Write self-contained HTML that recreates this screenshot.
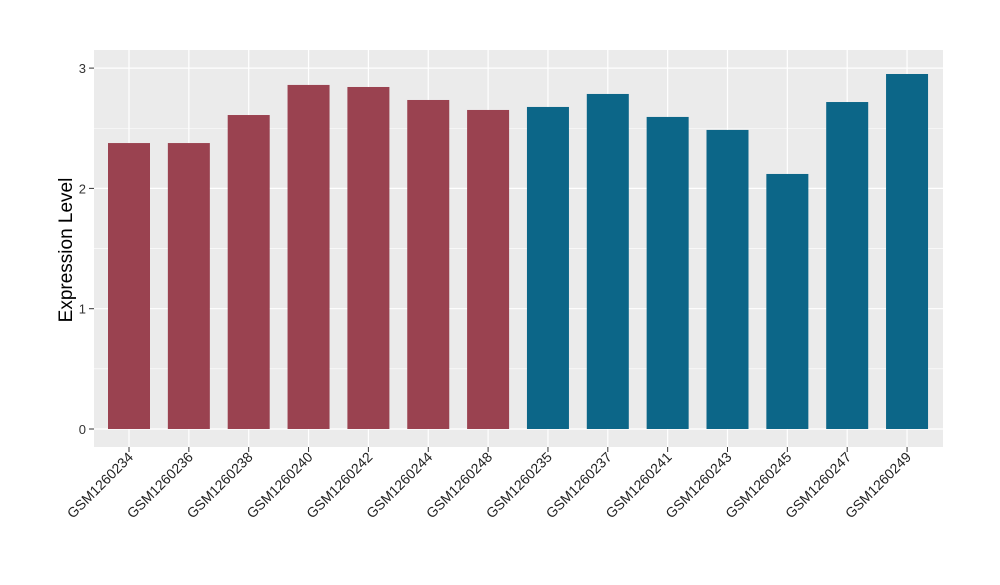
<!DOCTYPE html>
<html><head><meta charset="utf-8"><style>
body{margin:0;background:#fff;}
svg text{font-family:"Liberation Sans",sans-serif;}
</style></head><body>
<svg id="chart" width="1000" height="580">
<rect x="94" y="50" width="849" height="397" fill="#ebebeb"/>
<g id="grid"></g><g id="bars"></g><g id="axes"></g>
<text x="72" y="250" font-size="19" text-anchor="middle" transform="rotate(-90 72 250)">Expression Level</text>
</svg>
<script>
const categories=["GSM1260234","GSM1260236","GSM1260238","GSM1260240","GSM1260242","GSM1260244","GSM1260248","GSM1260235","GSM1260237","GSM1260241","GSM1260243","GSM1260245","GSM1260247","GSM1260249"];
const values=[2.377,2.377,2.61,2.86,2.843,2.735,2.652,2.677,2.785,2.594,2.486,2.12,2.718,2.951];
const groups=[0,0,0,0,0,0,0,1,1,1,1,1,1,1];
const yTicks=[0,1,2,3];
const colors=["#9a4250","#0c6688"];
const NS="http://www.w3.org/2000/svg";
const y=v=>429-v*120.3;
const x=i=>129+i*59.85;
function mk(t,a,p){const e=document.createElementNS(NS,t);for(const k in a)e.setAttribute(k,a[k]);p.appendChild(e);return e;}
const grid=document.getElementById('grid'),bars=document.getElementById('bars'),axes=document.getElementById('axes');
for(let v=0.5;v<3.2;v+=1){const l=mk('line',{x1:94,x2:943,y1:y(v),y2:y(v),stroke:'#fff','stroke-width':0.6},grid);

}
yTicks.forEach(t=>{const l=mk('line',{x1:94,x2:943,y1:y(t),y2:y(t),stroke:'#fff','stroke-width':1.2},grid);


const tk=mk('line',{x1:89,x2:94,y1:y(t),y2:y(t),stroke:'#333'},axes);


const tx=mk('text',{x:86,y:y(t)+5,'font-size':13,'text-anchor':'end',fill:'#333'},axes);tx.textContent=t;

});
categories.forEach((c,i)=>{const gl=mk('line',{x1:x(i),x2:x(i),y1:50,y2:447,stroke:'#fff','stroke-width':1.2},grid);


const r=mk('rect',{x:x(i)-21,y:y(values[i]),width:42,height:y(0)-y(values[i]),fill:colors[groups[i]]},bars);


const tk=mk('line',{x1:x(i),x2:x(i),y1:447,y2:452,stroke:'#333'},axes);


const tx=mk('text',{x:x(i)+5,y:458,'font-size':14,'text-anchor':'end',fill:'#222',transform:`rotate(-45 ${x(i)+5} 458)`},axes);tx.textContent=c;

});
</script>
</body></html>
